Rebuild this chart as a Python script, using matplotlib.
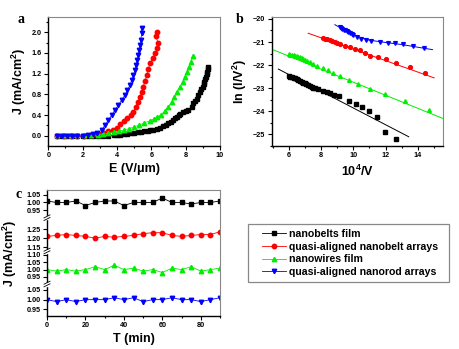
import numpy as np
import matplotlib
matplotlib.use("Agg")
import matplotlib.pyplot as plt
from matplotlib.lines import Line2D
from matplotlib.patches import Rectangle
from matplotlib.ticker import MultipleLocator, FormatStrFormatter

plt.rcParams['font.family'] = ['Liberation Sans', 'DejaVu Sans']
plt.rcParams['font.weight'] = 'bold'
plt.rcParams['mathtext.fontset'] = 'custom'
plt.rcParams['mathtext.rm'] = 'Liberation Sans:bold'
plt.rcParams['mathtext.bf'] = 'Liberation Sans:bold'
plt.rcParams['mathtext.it'] = 'Liberation Sans:bold'

labels = ['nanobelts film', 'quasi-aligned nanobelt arrays',
          'nanowires film', 'quasi-aligned nanorod arrays']
colors = ['black', '#ff0000', '#00ee00', '#0000ff']
markers = ['s', 'o', '^', 'v']

# ---- panel a: J-E curves
a_black_x = [0.5, 0.8, 1.1, 1.4, 1.7, 2.0, 2.3, 2.6, 2.9, 3.2, 3.5, 3.8, 4.0, 4.2, 4.4, 4.6, 4.8, 5.0,
             5.2, 5.4, 5.6, 5.8, 5.92, 6.1, 6.31, 6.5, 6.7, 6.85, 6.99, 7.15, 7.28, 7.4, 7.48, 7.6,
             7.67, 7.86, 8.0, 8.16, 8.35, 8.45, 8.55, 8.64, 8.74, 8.84, 8.92, 8.99, 9.05, 9.09, 9.14,
             9.18, 9.22, 9.26, 9.3, 9.32]
a_black_y = [0, 0, 0, 0, 0, 0, 0, 0, 0, 0, 0, 0.01, 0.01, 0.02, 0.03, 0.04, 0.05, 0.06,
             0.07, 0.08, 0.09, 0.1, 0.11, 0.12, 0.14, 0.16, 0.19, 0.21, 0.24, 0.27, 0.3, 0.35, 0.37, 0.4,
             0.43, 0.46, 0.48, 0.5, 0.56, 0.63, 0.68, 0.72, 0.79, 0.85, 0.9, 0.95, 1.0, 1.04, 1.09,
             1.14, 1.19, 1.24, 1.29, 1.33]
a_red_x = [0.5, 0.9, 1.3, 1.7, 2.1, 2.5, 2.8, 3.05, 3.25, 3.5, 3.75, 3.98, 4.2, 4.41, 4.6, 4.8,
           4.95, 5.09, 5.2, 5.34, 5.44, 5.53, 5.63, 5.73, 5.83, 5.92, 6.08, 6.21, 6.35, 6.41, 6.25, 6.35]
a_red_y = [0, 0, 0, 0, 0, 0.01, 0.03, 0.04, 0.06, 0.09, 0.12, 0.16, 0.22, 0.28, 0.34, 0.4,
           0.47, 0.56, 0.65, 0.75, 0.85, 0.95, 1.06, 1.17, 1.29, 1.4, 1.5, 1.59, 1.69, 1.79, 1.92, 2.01]
a_green_x = [0.5, 0.9, 1.3, 1.7, 2.1, 2.5, 2.9, 3.2, 3.5, 3.8, 4.1, 4.4, 4.7, 5.0, 5.3, 5.6,
             5.9, 6.15, 6.35, 6.55, 6.8, 6.99, 7.19, 7.34, 7.51, 7.67, 7.83, 7.96, 8.1, 8.21, 8.29, 8.41]
a_green_y = [0.01, 0.01, 0.01, 0.01, 0.01, 0.01, 0.02, 0.03, 0.05, 0.07, 0.09, 0.11, 0.14, 0.17, 0.21, 0.25,
             0.29, 0.33, 0.36, 0.41, 0.48, 0.56, 0.66, 0.75, 0.85, 0.95, 1.04, 1.14, 1.24, 1.33, 1.43, 1.54]
a_blue_x = [0.5, 0.8, 1.1, 1.4, 1.7, 2.0, 2.3, 2.6, 2.85, 3.11, 3.3, 3.5, 3.69, 3.88, 4.08, 4.27,
            4.47, 4.6, 4.76, 4.86, 4.95, 5.05, 5.1, 5.18, 5.24, 5.28, 5.34, 5.38, 5.44, 5.44]
a_blue_y = [-0.01, -0.01, -0.01, -0.01, -0.01, 0.0, 0.01, 0.03, 0.06, 0.11, 0.21, 0.3, 0.4, 0.5, 0.59, 0.69,
            0.79, 0.88, 0.98, 1.08, 1.17, 1.27, 1.37, 1.46, 1.56, 1.66, 1.75, 1.85, 1.98, 2.09]

# ---- panel b: F-N plots
b_black_x = [6.0, 6.1, 6.19, 6.3, 6.39, 6.5, 6.6, 6.7, 6.8, 6.9, 7.0, 7.1, 7.2, 7.3, 7.42, 7.52, 7.63,
             7.83, 8.1, 8.35, 8.55, 8.82, 9.13, 9.72, 10.16, 10.55, 10.98, 11.47, 11.97, 12.67]
b_black_y = [-22.46, -22.5, -22.53, -22.55, -22.57, -22.6, -22.64, -22.68, -22.72, -22.76, -22.79, -22.82,
             -22.86, -22.9, -22.93, -22.97, -23.0, -23.05, -23.11, -23.15, -23.22, -23.28, -23.34, -23.55,
             -23.7, -23.8, -23.99, -24.26, -24.88, -25.19]
b_red_x = [8.1, 8.25, 8.4, 8.55, 8.7, 8.85, 9.0, 9.17, 9.48, 9.79, 10.09, 10.4, 10.71, 11.02, 11.53,
           12.05, 12.67, 13.49, 14.42]
b_red_y = [-20.84, -20.85, -20.88, -20.9, -20.95, -21.0, -21.04, -21.1, -21.16, -21.23, -21.32, -21.34,
           -21.49, -21.59, -21.66, -21.75, -21.92, -22.1, -22.36]
b_green_x = [6.0, 6.1, 6.19, 6.3, 6.39, 6.5, 6.6, 6.7, 6.8, 6.9, 7.0, 7.15, 7.32, 7.52, 7.77, 8.14,
             8.45, 8.76, 9.17, 9.72, 10.3, 11.02, 11.95, 13.18, 14.7]
b_green_y = [-21.52, -21.55, -21.56, -21.58, -21.6, -21.61, -21.63, -21.66, -21.7, -21.74, -21.78, -21.83,
             -21.88, -21.97, -22.04, -22.14, -22.21, -22.33, -22.47, -22.64, -22.82, -23.05, -23.27,
             -23.55, -23.95]
b_blue_x = [9.17, 9.25, 9.32, 9.4, 9.48, 9.58, 9.68, 9.79, 9.89, 9.99, 10.2, 10.5, 10.81, 11.12, 11.64,
            12.15, 12.56, 13.08, 13.7, 14.4]
b_blue_y = [-20.33, -20.38, -20.42, -20.46, -20.5, -20.53, -20.57, -20.62, -20.66, -20.69, -20.77, -20.87,
            -20.91, -20.95, -20.98, -21.03, -21.05, -21.1, -21.17, -21.27]
# fitted lines
fit_black = ([5.36, 13.43], [-22.17, -25.1])
fit_red = ([7.21, 15.0], [-20.62, -22.55])
fit_green = ([4.95, 15.55], [-21.31, -24.31])
fit_blue = ([8.86, 9.5, 10.2, 11.0, 12.0, 13.0, 14.9],
            [-20.25, -20.5, -20.75, -20.92, -21.02, -21.11, -21.33])

# ---- panel c: stability
t_min = [0, 5, 10, 15, 20, 25, 30, 35, 40, 45, 50, 55, 60, 65, 70, 75, 80, 85, 90]
c_black = [1.01, 1.00, 1.00, 1.01, 0.98, 1.00, 1.01, 1.01, 0.98, 1.00, 1.00, 1.00, 1.03, 1.00, 1.00,
           0.99, 1.00, 1.00, 1.01]
c_red = [1.21, 1.215, 1.22, 1.215, 1.21, 1.20, 1.21, 1.205, 1.21, 1.215, 1.225, 1.23, 1.23, 1.215,
         1.21, 1.215, 1.22, 1.22, 1.235]
c_green = [1.00, 0.99, 1.00, 0.99, 1.00, 1.02, 1.00, 1.03, 1.00, 1.01, 0.99, 1.00, 0.98, 1.01, 1.00,
           1.02, 0.99, 1.00, 1.01]
c_blue = [1.00, 0.99, 1.00, 0.99, 1.00, 1.00, 1.00, 1.01, 1.00, 1.01, 0.99, 1.00, 1.00, 1.01, 1.00,
          1.00, 0.99, 1.00, 1.01]

W, H = 459, 349
fig = plt.figure(figsize=(W / 100, H / 100), dpi=100)


def box(x0, y0, x1, y1):
    return [x0 / W, 1 - y1 / H, (x1 - x0) / W, (y1 - y0) / H]


def style(ax):
    for s in ['top', 'right']:
        ax.spines[s].set_color('#888888')
    for s in ['left', 'bottom']:
        ax.spines[s].set_color('black')
        ax.spines[s].set_linewidth(1.0)
    ax.tick_params(which='both', direction='out', top=False, right=False, width=0.8,
                   labelsize=5.2, pad=1.5)
    ax.tick_params(which='major', length=3)
    ax.tick_params(which='minor', length=1.6)


# panel a
axa = fig.add_axes(box(48.3, 16.7, 220, 145.7))
for xs, ys, c, m in zip([a_black_x, a_red_x, a_green_x, a_blue_x],
                        [a_black_y, a_red_y, a_green_y, a_blue_y], colors, markers):
    axa.plot(xs, ys, color=c, marker=m, ms=3.2, lw=0.5, mec=c)
axa.set_xlim(0, 10)
axa.set_ylim(-0.19, 2.3)
axa.xaxis.set_major_locator(MultipleLocator(2))
axa.xaxis.set_minor_locator(MultipleLocator(1))
axa.yaxis.set_major_locator(MultipleLocator(0.4))
axa.yaxis.set_minor_locator(MultipleLocator(0.2))
axa.yaxis.set_major_formatter(FormatStrFormatter('%.1f'))
style(axa)
axa.set_xlabel('E (V/\u03bcm)', fontsize=9, fontweight='bold', labelpad=3)
axa.set_ylabel(r'J (mA/cm$^{2}$)', fontsize=9, fontweight='bold', labelpad=3)
fig.text(17 / W, 1 - 23 / H, 'a', family='Liberation Serif', fontsize=10, fontweight='bold')

# panel b
axb = fig.add_axes(box(271.7, 17.3, 443, 146))
for xs, ys, fit, c, m in zip([b_black_x, b_red_x, b_green_x, b_blue_x],
                             [b_black_y, b_red_y, b_green_y, b_blue_y],
                             [fit_black, fit_red, fit_green, fit_blue], colors, markers):
    axb.plot(fit[0], fit[1], color=c, lw=0.7)
    axb.plot(xs, ys, ls='none', color=c, marker=m, ms=2.7, mec=c)
axb.set_xlim(4.95, 15.55)
axb.set_ylim(-25.5, -19.93)
axb.xaxis.set_major_locator(MultipleLocator(2))
axb.xaxis.set_minor_locator(MultipleLocator(1))
axb.yaxis.set_major_locator(MultipleLocator(1))
axb.yaxis.set_minor_locator(MultipleLocator(0.5))
style(axb)
axb.set_xlabel(r'10$^{4}$/V', fontsize=9, fontweight='bold', labelpad=3)
axb.set_ylabel(r'ln (I/V$^{2}$)', fontsize=9, fontweight='bold', labelpad=3)
fig.text(236 / W, 1 - 23 / H, 'b', family='Liberation Serif', fontsize=10, fontweight='bold')

# panel c: four stacked segments
bounds = [190, 217.7, 251, 284, 315.7]
ylims = [(0.899, 1.083), (1.13, 1.312), (0.902, 1.127), (0.917, 1.081)]
yticks = [[0.95, 1.00, 1.05], [1.15, 1.20, 1.25], [0.95, 1.00, 1.05, 1.10], [0.95, 1.00, 1.05]]
series_c = [c_black, c_red, c_green, c_blue]
axes_c = []
handles = []
for i in range(4):
    ax = fig.add_axes(box(47, bounds[i], 220, bounds[i + 1]))
    h, = ax.plot(t_min, series_c[i], color=colors[i], marker=markers[i], ms=3.2, lw=0.6,
                 mec=colors[i])
    handles.append(h)
    ax.set_xlim(0, 90)
    ax.set_ylim(*ylims[i])
    ax.set_yticks(yticks[i])
    ax.yaxis.set_major_formatter(FormatStrFormatter('%.2f'))
    ax.xaxis.set_major_locator(MultipleLocator(20))
    ax.xaxis.set_minor_locator(MultipleLocator(10))
    style(ax)
    if i > 0:
        ax.spines['top'].set_visible(False)
    if i < 3:
        ax.spines['bottom'].set_visible(False)
        ax.tick_params(axis='x', which='both', bottom=False, labelbottom=False)
    axes_c.append(ax)
axes_c[-1].set_xlabel('T (min)', fontsize=9, fontweight='bold', labelpad=3)
fig.text(10 / W, 1 - 253 / H, r'J (mA/cm$^{2}$)', fontsize=9, fontweight='bold',
         rotation=90, ha='center', va='center')
fig.text(15 / W, 1 - 198 / H, 'c', family='Liberation Serif', fontsize=10, fontweight='bold')

# axis break marks on the left spine
for yb in bounds[1:4]:
    fig.add_artist(Rectangle(((47 - 1.5) / W, 1 - (yb + 1.5) / H), 3 / W, 3 / H,
                             transform=fig.transFigure, color='white', zorder=5))
    for dy in (-1.3, 1.3):
        fig.add_artist(Line2D([(47 - 3) / W, (47 + 3) / W],
                              [1 - (yb + dy + 1.5) / H, 1 - (yb + dy - 1.5) / H],
                              transform=fig.transFigure, color='black', lw=0.6, zorder=6))

# legend with its own frame
fig.add_artist(Rectangle((248 / W, 1 - 282 / H), 201 / W, 58 / H, transform=fig.transFigure,
                         facecolor='white', edgecolor='#888888', lw=0.9, zorder=1))
leg = fig.legend(handles, labels, loc='upper left', bbox_to_anchor=(262 / W, 1 - 229 / H),
                 prop={'size': 7.6, 'weight': 'bold'}, frameon=False,
                 handlelength=2.3, handletextpad=0.3, labelspacing=0.25,
                 borderpad=0.0, borderaxespad=0)
leg.set_zorder(3)

fig.savefig('out.png', dpi=100)
